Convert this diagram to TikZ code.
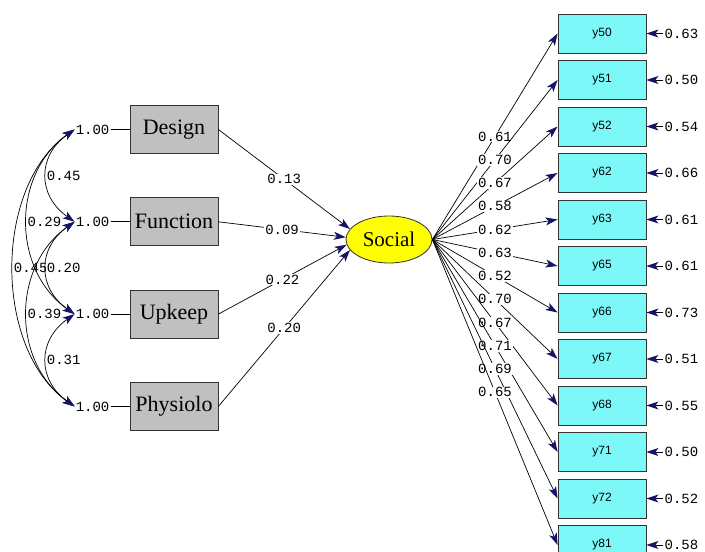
\documentclass[tikz,border=0pt]{standalone}
\usepackage{fontspec}
\setmainfont{Liberation Serif}
\newfontfamily\lismono{Liberation Mono}
\newfontfamily\lissans{Liberation Sans}
\usetikzlibrary{positioning,arrows.meta,shapes.geometric}
\definecolor{xgray}{RGB}{192,192,192}
\definecolor{ycyan}{RGB}{125,248,248}
\definecolor{etayellow}{RGB}{255,255,0}
\definecolor{tipblue}{RGB}{20,20,105}
\tikzset{
  xbox/.style={draw=black!80,fill=xgray,line width=0.8pt,minimum width=88pt,minimum height=48pt,inner sep=0pt,font=\fontsize{22}{24}\selectfont},
  ybox/.style={draw=black!80,fill=ycyan,line width=0.8pt,minimum width=88pt,minimum height=39pt,inner sep=0pt,font=\lissans\fontsize{12}{14}\selectfont},
  eta/.style={ellipse,draw=black!80,fill=etayellow,line width=0.8pt,minimum width=86pt,minimum height=47pt,inner sep=0pt,font=\fontsize{21}{22}\selectfont},
  num/.style={font=\lismono\fontsize{14}{16}\selectfont,inner sep=1pt},
  coef/.style={num,fill=white,pos=0.5},
  covlbl/.style={num,fill=white,pos=0.5,anchor=west,xshift=-1pt},
  tip/.tip={Stealth[length=12pt,width=8pt,inset=3pt,line width=1pt,color=tipblue,fill=tipblue]},
  lnk/.style={line width=0.7pt,-tip},
  cov/.style={line width=0.7pt,tip-tip}
}
\begin{document}
\begin{tikzpicture}[x=1pt,y=1pt]
            \useasboundingbox (0,0) rectangle (705,-552);
            \node[xbox] (design) at (174,-129.5) {Design};
            \node[xbox,below=43.5pt of design] (function) {Function};
            \node[xbox,below=43.5pt of function] (upkeep) {Upkeep};
            \node[xbox,below=43.5pt of upkeep] (physio) {Physiolo};
            \node[num,left=19pt of design] (d1) {1.00};
            \node[num,left=19pt of function] (d2) {1.00};
            \node[num,left=19pt of upkeep] (d3) {1.00};
            \node[num,left=19pt of physio] (d4) {1.00};
            \draw[line width=0.7pt] (d1)--(design);
            \draw[line width=0.7pt] (d2)--(function);
            \draw[line width=0.7pt] (d3)--(upkeep);
            \draw[line width=0.7pt] (d4)--(physio);

            \draw[cov] (d1.west) to[out=215,in=145,looseness=0.92] node[covlbl] {0.45} (d4.west);
            \draw[cov] (d1.west) to[out=215,in=145,looseness=1.07] node[covlbl] {0.29} (d3.west);
            \draw[cov] (d2.west) to[out=215,in=145,looseness=1.07] node[covlbl] {0.39} (d4.west);
            \draw[cov] (d1.west) to[out=215,in=145,looseness=1.27] node[covlbl] {0.45} (d2.west);
            \draw[cov] (d2.west) to[out=215,in=145,looseness=1.27] node[covlbl] {0.20} (d3.west);
            \draw[cov] (d3.west) to[out=215,in=145,looseness=1.27] node[covlbl] {0.31} (d4.west);

            \node[eta] (social) at (389,-239.5) {Social};
            \draw[lnk] (design.east)--node[coef] {0.13} (social.165);
            \draw[lnk] (function.east)--node[coef] {0.09} (social.177);
            \draw[lnk] (upkeep.east)--node[coef] {0.22} (social.187);
            \draw[lnk] (physio.east)--node[coef] {0.20} (social.195);

            \node[ybox] (y50) at (602,-33.5) {y50};
            \node[ybox,below=6.7pt of y50] (y51) {y51};
            \node[ybox,below=6.7pt of y51] (y52) {y52};
            \node[ybox,below=6.7pt of y52] (y62) {y62};
            \node[ybox,below=6.7pt of y62] (y63) {y63};
            \node[ybox,below=6.7pt of y63] (y65) {y65};
            \node[ybox,below=6.7pt of y65] (y66) {y66};
            \node[ybox,below=6.7pt of y66] (y67) {y67};
            \node[ybox,below=6.7pt of y67] (y68) {y68};
            \node[ybox,below=6.7pt of y68] (y71) {y71};
            \node[ybox,below=6.7pt of y71] (y72) {y72};
            \node[ybox,below=6.7pt of y72] (y81) {y81};

            \draw[lnk] (social.east)--node[coef] {0.61} (y50.west);
            \draw[lnk] (social.east)--node[coef] {0.70} (y51.west);
            \draw[lnk] (social.east)--node[coef] {0.67} (y52.west);
            \draw[lnk] (social.east)--node[coef] {0.58} (y62.west);
            \draw[lnk] (social.east)--node[coef] {0.62} (y63.west);
            \draw[lnk] (social.east)--node[coef] {0.63} (y65.west);
            \draw[lnk] (social.east)--node[coef] {0.52} (y66.west);
            \draw[lnk] (social.east)--node[coef] {0.70} (y67.west);
            \draw[lnk] (social.east)--node[coef] {0.67} (y68.west);
            \draw[lnk] (social.east)--node[coef] {0.71} (y71.west);
            \draw[lnk] (social.east)--node[coef] {0.69} (y72.west);
            \draw[lnk] (social.east)--node[coef] {0.65} (y81.west);

            \node[num,right=17pt of y50] (e50) {0.63};
            \node[num,right=17pt of y51] (e51) {0.50};
            \node[num,right=17pt of y52] (e52) {0.54};
            \node[num,right=17pt of y62] (e62) {0.66};
            \node[num,right=17pt of y63] (e63) {0.61};
            \node[num,right=17pt of y65] (e65) {0.61};
            \node[num,right=17pt of y66] (e66) {0.73};
            \node[num,right=17pt of y67] (e67) {0.51};
            \node[num,right=17pt of y68] (e68) {0.55};
            \node[num,right=17pt of y71] (e71) {0.50};
            \node[num,right=17pt of y72] (e72) {0.52};
            \node[num,right=17pt of y81] (e81) {0.58};
            \draw[lnk] (e50)--(y50); \draw[lnk] (e51)--(y51); \draw[lnk] (e52)--(y52);
            \draw[lnk] (e62)--(y62); \draw[lnk] (e63)--(y63); \draw[lnk] (e65)--(y65);
            \draw[lnk] (e66)--(y66); \draw[lnk] (e67)--(y67); \draw[lnk] (e68)--(y68);
            \draw[lnk] (e71)--(y71); \draw[lnk] (e72)--(y72); \draw[lnk] (e81)--(y81);
\end{tikzpicture}
\end{document}
